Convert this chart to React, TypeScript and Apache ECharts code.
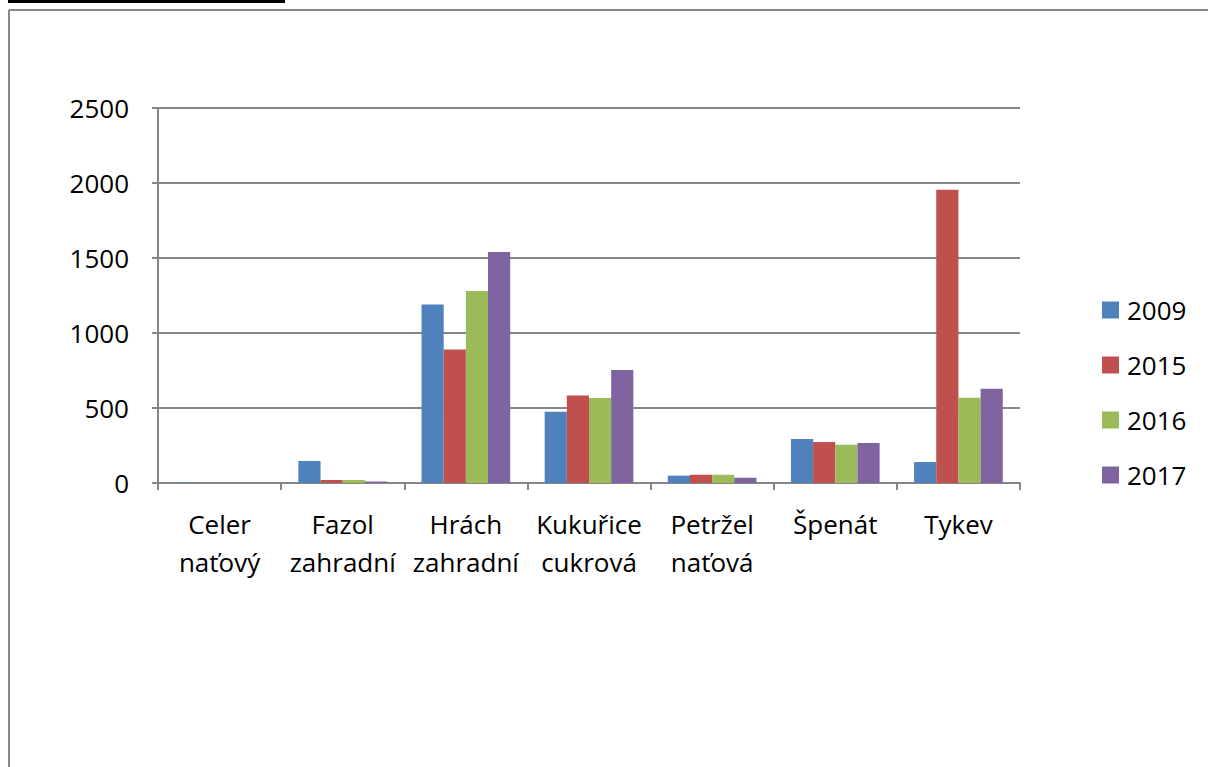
import React, { useEffect, useRef } from "react";
import * as echarts from "echarts";

const categories = ["Celer\nnaťový", "Fazol\nzahradní", "Hrách\nzahradní", "Kukuřice\ncukrová", "Petržel\nnaťová", "Špenát", "Tykev"];
const seriesNames = ["2009", "2015", "2016", "2017"];
const v2009 = [3, 147, 1190, 475, 49, 293, 140];
const v2015 = [0, 20, 890, 584, 55, 273, 1955];
const v2016 = [0, 20, 1280, 567, 55, 255, 569];
const v2017 = [0, 10, 1540, 753, 35, 267, 629];
const colors = ["#4F81BD", "#C0504D", "#9BBB59", "#8064A2"];

export default function App() {
  const ref = useRef<HTMLDivElement>(null);
  useEffect(() => {
    const chart = echarts.init(ref.current!, undefined, { renderer: "svg" });
    const values = [v2009, v2015, v2016, v2017];
    const font = "'Open Sans', sans-serif";
    chart.setOption({
      animation: false,
      backgroundColor: "#ffffff",
      color: colors,
      textStyle: { fontFamily: font },
      grid: { left: 158, right: 188, top: 108, bottom: 284, containLabel: false },
      legend: {
        orient: "vertical",
        left: 1102,
        top: 297,
        padding: 0,
        itemWidth: 17,
        itemHeight: 17,
        itemGap: 29,
        icon: "rect",
        data: seriesNames,
        textStyle: { fontSize: 26, color: "#000", fontFamily: font, lineHeight: 26, padding: [0, 0, 0, 3] },
      },
      xAxis: {
        type: "category",
        data: categories,
        axisLine: { lineStyle: { color: "#868686", width: 2 } },
        axisTick: { show: true, length: 7, lineStyle: { color: "#868686", width: 2 } },
        axisLabel: { fontSize: 26, color: "#000", lineHeight: 38, margin: 22, interval: 0, fontFamily: font },
      },
      yAxis: {
        type: "value",
        min: 0,
        max: 2500,
        interval: 500,
        axisLine: { show: true, lineStyle: { color: "#868686", width: 2 } },
        axisTick: { show: true, length: 6, lineStyle: { color: "#868686", width: 2 } },
        axisLabel: { fontSize: 26, color: "#000", margin: 29, fontFamily: font, formatter: (v: number) => String(v) },
        splitLine: { lineStyle: { color: "#868686", width: 2 } },
      },
      series: seriesNames.map((n, i) => ({
        name: n,
        type: "bar",
        data: values[i],
        barGap: "0%",
        barCategoryGap: "28%",
        itemStyle: { color: colors[i] },
      })),
      graphic: [
        { type: "rect", shape: { x: 8, y: 0, width: 277, height: 3 }, style: { fill: "#000" } },
        { type: "line", shape: { x1: 9, y1: 10, x2: 1208, y2: 10 }, style: { stroke: "#888", lineWidth: 2 } },
        { type: "line", shape: { x1: 9, y1: 10, x2: 9, y2: 767 }, style: { stroke: "#888", lineWidth: 2 } },
      ],
    });
    return () => chart.dispose();
  }, []);
  return <div ref={ref} style={{ position: "fixed", left: 0, top: 0, width: 1208, height: 767 }} />;
}
